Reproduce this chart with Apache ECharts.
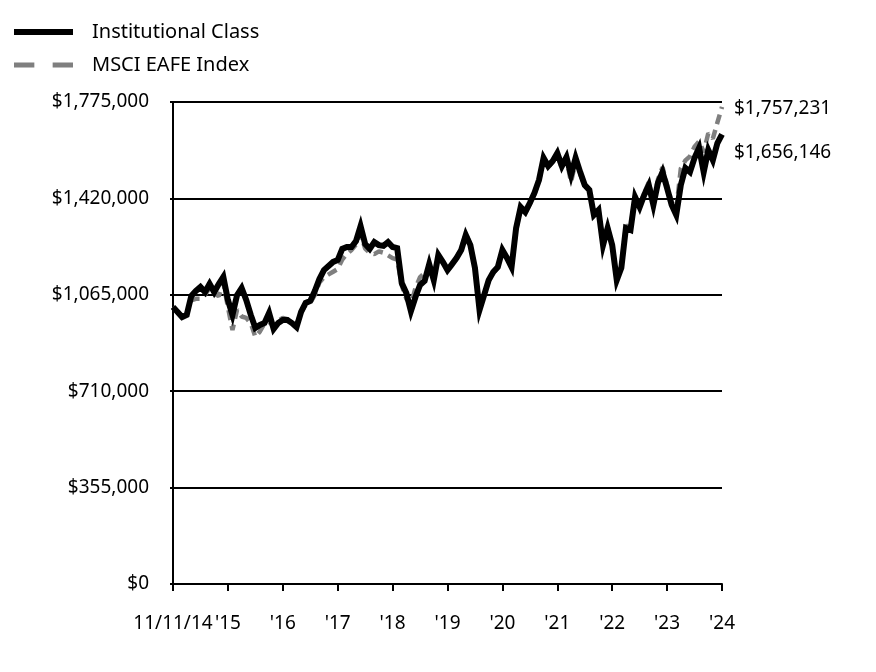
<!DOCTYPE html>
<html>
<head>
<meta charset="utf-8">
<script src="https://cdn.jsdelivr.net/npm/echarts@6/dist/echarts.min.js"></script>
<style>html,body{margin:0;padding:0;background:#fff}#c{width:876px;height:672px}</style>
</head>
<body>
<div id="c"></div>
<script>
// Monthly points from 11/11/14 to 10/31/24 (121 points); yearly tick labels
const tickLabels = ["11/11/14","'15","'16","'17","'18","'19","'20","'21","'22","'23","'24"];
const seriesNames = ["Institutional Class", "MSCI EAFE Index"];
// values in thousands of dollars
const institutional = [1020,1002,983,991,1061,1079,1094,1075,1105,1075,1105,1131,
  1046,991,1064,1090,1046,991,943,954,961,998,939,961,
  972,972,961,946,1002,1035,1042,1079,1123,1156,1171,1186,
  1193,1234,1241,1241,1263,1318,1252,1234,1259,1248,1245,1259,
  1241,1237,1108,1072,1005,1057,1101,1116,1178,1119,1212,1186,
  1156,1178,1201,1230,1285,1248,1164,1009,1064,1119,1149,1167,
  1230,1201,1167,1311,1388,1370,1403,1440,1488,1569,1539,1558,
  1587,1539,1572,1506,1569,1517,1469,1451,1359,1377,1248,1311,
  1248,1119,1164,1311,1304,1425,1388,1433,1469,1396,1477,1517,
  1458,1396,1359,1469,1532,1517,1569,1606,1517,1598,1561,1624,
  1656.146];
const msciEafe = [1020,1000,983,995,1045,1050,1050,1065,1090,1070,1060,1110,
  1020,935,1010,985,980,960,910,930,960,965,950,970,
  980,975,965,955,1000,1030,1035,1065,1110,1130,1140,1150,
  1160,1195,1215,1230,1250,1290,1235,1220,1215,1225,1220,1210,
  1200,1195,1100,1050,1030,1090,1130,1145,1165,1125,1200,1180,
  1155,1175,1200,1235,1290,1250,1165,1015,1065,1115,1145,1165,
  1225,1200,1165,1305,1385,1365,1400,1435,1485,1560,1535,1555,
  1580,1530,1565,1480,1555,1510,1465,1450,1360,1380,1255,1315,
  1250,1125,1170,1320,1310,1430,1395,1440,1480,1405,1490,1535,
  1470,1405,1380,1530,1560,1575,1610,1630,1590,1660,1640,1700,
  1757.231];
const endLabels = ["$1,656,146", "$1,757,231"];

const categories = institutional.map((v, i) => i === 0 ? tickLabels[0] : 'm' + i);
const toDollars = arr => arr.map(v => Math.round(v * 1000));
const FONT = 'Noto Sans';

const chart = echarts.init(document.getElementById('c'), null, {renderer: 'canvas'});
chart.setOption({
  animation: false,
  backgroundColor: '#fff',
  textStyle: {fontFamily: FONT},
  legend: {
    orient: 'vertical',
    left: 9, top: 17,
    itemWidth: 59, itemHeight: 14, itemGap: 13,
    textStyle: {fontSize: 20, color: '#000', fontFamily: FONT, padding: [0, 0, 0, 14]},
    data: [
      {name: seriesNames[0], icon: 'path://M0,0L60,0L60,6L0,6Z', itemStyle: {color: '#000'}},
      {name: seriesNames[1], icon: 'path://M0,0L20,0L20,5L0,5ZM38,0L58,0L58,5L38,5Z', itemStyle: {color: '#7f7f7f'}}
    ]
  },
  grid: {left: 173, right: 154, top: 102, bottom: 88, containLabel: false},
  xAxis: {
    type: 'category',
    boundaryGap: false,
    data: categories,
    axisLine: {lineStyle: {color: '#000', width: 2}},
    axisTick: {
      show: true, length: 7, inside: false,
      interval: (i) => i % 12 === 0,
      lineStyle: {color: '#000', width: 2}
    },
    axisLabel: {
      interval: (i) => i % 12 === 0,
      formatter: (v, i) => tickLabels[i / 12],
      color: '#000', fontSize: 19, fontFamily: FONT, margin: 30
    },
    splitLine: {show: false}
  },
  yAxis: {
    type: 'value',
    min: 0, max: 1775000, interval: 355000,
    axisLine: {show: true, lineStyle: {color: '#000', width: 2}},
    axisTick: {show: true, length: 3, lineStyle: {color: '#000', width: 2}},
    axisLabel: {
      color: '#000', fontSize: 19, fontFamily: FONT, margin: 24,
      padding: [4, 0, 0, 0],
      formatter: v => '$' + v.toLocaleString('en-US')
    },
    splitLine: {show: true, lineStyle: {color: '#000', width: 2}}
  },
  series: [
    {
      name: seriesNames[0], type: 'line', data: toDollars(institutional),
      showSymbol: false, symbol: 'none', z: 5,
      lineStyle: {color: '#000', width: 6, join: 'miter'},
      itemStyle: {color: '#000'},
      endLabel: {show: true, formatter: endLabels[0], distance: 12, offset: [0, 18],
        color: '#000', fontSize: 19, fontFamily: FONT}
    },
    {
      name: seriesNames[1], type: 'line', data: toDollars(msciEafe),
      showSymbol: false, symbol: 'none', z: 4,
      lineStyle: {color: '#7f7f7f', width: 4.5, type: [10, 6]},
      itemStyle: {color: '#7f7f7f'},
      endLabel: {show: true, formatter: endLabels[1], distance: 12, offset: [0, 2],
        color: '#000', fontSize: 19, fontFamily: FONT}
    }
  ]
});
</script>
</body>
</html>
